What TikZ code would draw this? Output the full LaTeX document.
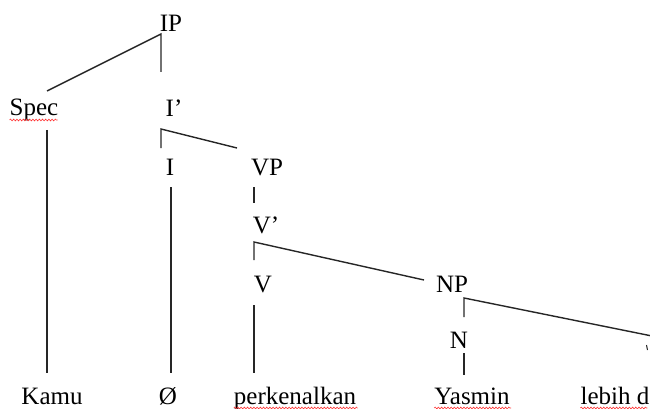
\documentclass[tikz,border=0pt]{standalone}
\usepackage{fontspec}
\setmainfont{Liberation Serif}
\usetikzlibrary{decorations.pathmorphing}
\tikzset{
  lbl/.style={anchor=base, inner sep=0pt, font=\fontsize{25}{28}\selectfont},
  edge/.style={line width=1.4pt, black!85},
  squig/.style={draw=red!80, line width=0.6pt, decorate, decoration={snake, amplitude=0.9pt, segment length=3.2pt}}
}
\begin{document}
\begin{tikzpicture}[x=1pt,y=-1pt]
\useasboundingbox (0,0) rectangle (650,409);
\clip (0,0) rectangle (650,409);
% labels
\node[lbl] (ip) at (171,32) {IP};
\node[lbl] (spec) at (34,116) {Spec};
\node[lbl] (ibar) at (174,117) {I’};
\node[lbl] (i) at (170,175) {I};
\node[lbl] (vp) at (267,175) {VP};
\node[lbl] (vbar) at (266,233) {V’};
\node[lbl] (v) at (263,292) {V};
\node[lbl] (np) at (452,292) {NP};
\node[lbl] (n) at (459,348) {N};
\node[lbl] (kamu) at (52,404) {Kamu};
\node[lbl] (null) at (168,404) {Ø};
\node[lbl] (perk) at (295,404) {perkenalkan};
\node[lbl] (yas) at (472,404) {Yasmin};
\node[lbl, anchor=base east] (lebih) at (649.5,404) {lebih d};
% coordinates
\coordinate (ipj) at (161,34);
\coordinate (ipl) at (47,91);
\coordinate (ipr) at (161,72);
\coordinate (ibj) at (161,129);
\coordinate (ibl) at (161,148);
\coordinate (ibr) at (237,148);
\coordinate (spt) at (47,130);
\coordinate (spb) at (47,373);
\coordinate (it) at (171,187);
\coordinate (ib) at (171,373);
\coordinate (vpt) at (254,187);
\coordinate (vpb) at (254,203);
\coordinate (vbj) at (254,242);
\coordinate (vbl) at (254,260);
\coordinate (vbr) at (424,280);
\coordinate (vt) at (254,305);
\coordinate (vb) at (254,373);
\coordinate (npj) at (464,298);
\coordinate (npl) at (464,317);
\coordinate (npr) at (652,336);
\coordinate (nt) at (464,353);
\coordinate (nb) at (464,375);
\coordinate (mk1) at (646.5,345);
\coordinate (mk2) at (647.5,350);
% edges
\draw[edge] (ipl) -- (ipj) -- (ipr);
\draw[edge] (ibl) -- (ibj) -- (ibr);
\draw[edge] (spt) -- (spb);
\draw[edge] (it) -- (ib);
\draw[edge] (vpt) -- (vpb);
\draw[edge] (vbl) -- (vbj) -- (vbr);
\draw[edge] (vt) -- (vb);
\draw[edge] (npl) -- (npj) -- (npr);
\draw[edge] (nt) -- (nb);
\draw[edge, line width=1pt] (mk1) -- (mk2);
% spell-check underlines
\draw[squig] (spec.base west) ++(0,4) -- ++(48,0);
\draw[squig] (perk.base west) ++(0,4) -- ++(124,0);
\draw[squig] (yas.base west) ++(0,4) -- ++(77,0);
\draw[squig] (lebih.base west) ++(0,4) -- ++(67,0);
\end{tikzpicture}
\end{document}
